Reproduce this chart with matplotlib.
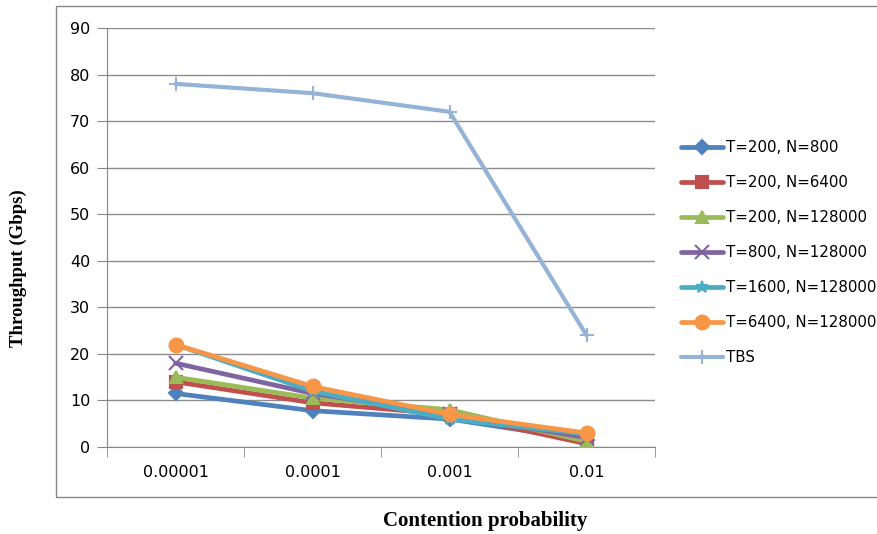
import matplotlib.pyplot as plt
from matplotlib.patches import Rectangle

categories = ['0.00001', '0.0001', '0.001', '0.01']
series_names = ['T=200, N=800', 'T=200, N=6400', 'T=200, N=128000',
                'T=800, N=128000', 'T=1600, N=128000', 'T=6400, N=128000', 'TBS']
t200_n800 = [11.5, 7.8, 6, 1.5]
t200_n6400 = [14, 9.5, 7, 0.7]
t200_n128000 = [15, 10.5, 8, 1.2]
t800_n128000 = [18, 11.5, 7, 2]
t1600_n128000 = [22, 12, 6, 2.8]
t6400_n128000 = [22, 13, 7, 3]
tbs = [78, 76, 72, 24]

colors = ['#4F81BD', '#C0504D', '#9BBB59', '#8064A2', '#4BACC6', '#F79646', '#95B3D7']
markers = ['D', 's', '^', 'x', '*', 'o', '+']
msizes = [7, 8, 8, 10, 9, 10, 10]

values = [t200_n800, t200_n6400, t200_n128000, t800_n128000,
          t1600_n128000, t6400_n128000, tbs]

fig = plt.figure(figsize=(8.78, 5.34), dpi=100)
ax = fig.add_axes([107 / 878, 87 / 534, 548 / 878, 419 / 534])

xs = list(range(len(categories)))
for i, (name, vals) in enumerate(zip(series_names, values)):
    lw = 3.4 if i < 6 else 3.0
    ax.plot(xs, vals, color=colors[i], lw=lw, marker=markers[i], ms=msizes[i],
            mew=1.5, label=name, solid_capstyle='round', zorder=3)

ax.set_xlim(-0.5, 3.5)
ax.set_ylim(0, 90)
ax.set_yticks(range(0, 91, 10))
ax.set_xticks(xs)
ax.set_xticklabels(categories)
ax.set_xticks([-0.5, 0.5, 1.5, 2.5, 3.5], minor=True)
ax.tick_params(axis='x', which='major', length=0, pad=13, labelsize=11.5)
ax.tick_params(axis='x', which='minor', length=7, direction='out', color='#888888')
ax.tick_params(axis='y', length=7, direction='out', color='#888888', labelsize=11.5, pad=5)
ax.grid(axis='y', color='#8c8c8c', lw=1)
ax.set_axisbelow(True)
for s in ['top', 'right']:
    ax.spines[s].set_visible(False)
for s in ['left', 'bottom']:
    ax.spines[s].set_color('#888888')

fig.text(18 / 878, 1 - 268 / 534, 'Throughput (Gbps)', rotation=90, va='center', ha='center',
         family='Liberation Serif', weight='bold', fontsize=13.5)
fig.text(485 / 878, 1 - 521 / 534, 'Contention probability', va='center', ha='center',
         family='Liberation Serif', weight='bold', fontsize=15)

leg = ax.legend(loc='upper left', bbox_to_anchor=(668 / 878, 1 - 127 / 534),
                bbox_transform=fig.transFigure, frameon=False, fontsize=10.8,
                labelspacing=1.33, handlelength=2.8, handletextpad=0.2)

fig.patches.append(Rectangle((56 / 878, 1 - 497 / 534), 1.0, 491 / 534, transform=fig.transFigure,
                             fill=False, edgecolor='#888888', lw=1, clip_on=False))

fig.savefig('out.png', dpi=100)
